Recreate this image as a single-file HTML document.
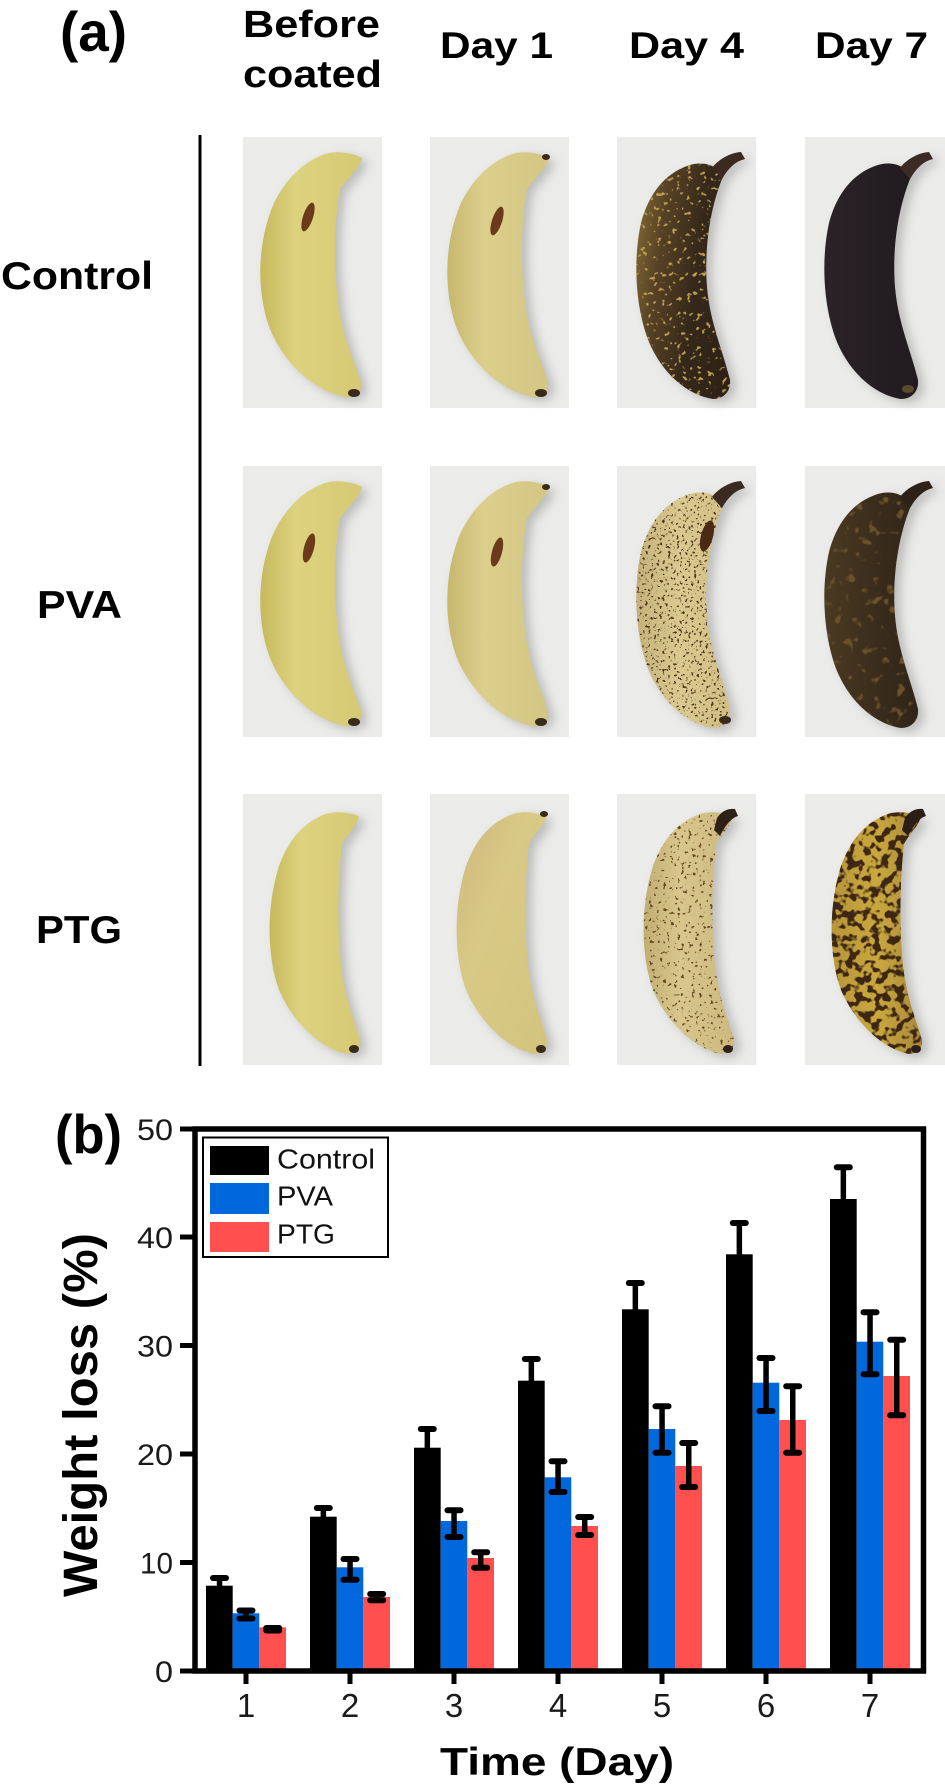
<!DOCTYPE html>
<html>
<head>
<meta charset="utf-8">
<style>
html,body{margin:0;padding:0;background:#fff;}
svg{display:block;}
</style>
</head>
<body>
<svg width="945" height="1791" viewBox="0 0 945 1791" xmlns="http://www.w3.org/2000/svg" xmlns:xlink="http://www.w3.org/1999/xlink" font-family="'Liberation Sans', Arial, sans-serif">
<defs>
  <path id="sA" d="M86,16 C96,14 110,16 119,21 C117,30 106,40 97,52 C91,85 90,130 96,172 C101,205 113,228 118,246 C119,255 112,261 102,260 C72,254 42,228 27,192 C13,155 14,105 31,66 C44,40 63,22 86,16 Z"/>
  <path id="sB" d="M70,29 C80,25 90,26 97,30 C103,23 113,17 124,16 L127,22 C119,24 111,31 105,42 C93,72 87,112 90,150 C93,186 106,214 113,243 C114,255 106,262 96,262 C70,258 45,236 32,205 C18,170 16,122 24,86 C32,56 48,37 70,29 Z"/>
  <path id="sC" d="M78,22 C90,16 104,18 116,22 C114,32 104,40 99,50 C95,85 94,130 98,172 C102,206 112,228 117,246 C118,256 110,262 100,259 C75,252 50,228 36,196 C23,160 24,110 36,72 C46,45 60,30 78,22 Z"/>
  <path id="stB" d="M95,31 C101,23 112,16 124,15 L128,22 C119,24 111,31 105,42 Z"/>
  <path id="stC" d="M100,24 C104,18 110,14 118,15 L121,22 C114,24 108,32 103,42 L97,36 Z"/>
  <clipPath id="clA"><use xlink:href="#sA"/></clipPath>
  <clipPath id="clB"><use xlink:href="#sB"/></clipPath>
  <clipPath id="clC"><use xlink:href="#sC"/></clipPath>
  <filter id="blur" x="-30%" y="-30%" width="160%" height="160%" color-interpolation-filters="sRGB"><feGaussianBlur stdDeviation="5"/></filter>

  <linearGradient id="gy" x1="0" y1="0" x2="1" y2="0"><stop offset="0" stop-color="#c6b85c"/><stop offset=".35" stop-color="#ddd27f"/><stop offset="1" stop-color="#d5c974"/></linearGradient>
  <linearGradient id="gy2" x1="0" y1="0" x2="1" y2="0"><stop offset="0" stop-color="#c6b76c"/><stop offset=".35" stop-color="#dccf8c"/><stop offset="1" stop-color="#d3c684"/></linearGradient>
  <linearGradient id="gd" x1="0" y1="0" x2="1" y2="0.3"><stop offset="0" stop-color="#8c7238"/><stop offset=".3" stop-color="#574226"/><stop offset=".65" stop-color="#35281a"/><stop offset="1" stop-color="#2e2218"/></linearGradient>
  <linearGradient id="gk" x1="0" y1="0" x2="1" y2="0"><stop offset="0" stop-color="#2a2226"/><stop offset="1" stop-color="#1f1a1e"/></linearGradient>
  <linearGradient id="gb" x1="0" y1="0" x2="1" y2="0"><stop offset="0" stop-color="#4a3a22"/><stop offset=".5" stop-color="#3a2c1c"/><stop offset="1" stop-color="#2c2218"/></linearGradient>
  <linearGradient id="gs" x1="0" y1="0" x2="1" y2="0"><stop offset="0" stop-color="#c4b27a"/><stop offset=".4" stop-color="#dac990"/><stop offset="1" stop-color="#cfbd82"/></linearGradient>
  <linearGradient id="g3" x1="0" y1="0" x2="1" y2="0"><stop offset="0" stop-color="#c2ae72"/><stop offset=".4" stop-color="#d8c68c"/><stop offset="1" stop-color="#cdb97e"/></linearGradient>
  <linearGradient id="g2r" x1="0" y1="0" x2="1" y2="1"><stop offset="0" stop-color="#cfb77c"/><stop offset=".4" stop-color="#d9c986"/><stop offset="1" stop-color="#d2c47c"/></linearGradient>
  <linearGradient id="g4" x1="0" y1="0" x2="1" y2="0"><stop offset="0" stop-color="#b8963a"/><stop offset=".5" stop-color="#caa83e"/><stop offset="1" stop-color="#a8893a"/></linearGradient>

  <filter id="f13" x="0" y="0" width="1" height="1" color-interpolation-filters="sRGB"><feTurbulence type="fractalNoise" baseFrequency="0.2" numOctaves="2" seed="5"/><feColorMatrix type="matrix" values="0 0 0 0 0.74  0 0 0 0 0.62  0 0 0 0 0.3  12 0 0 0 -7.6"/></filter>
  <filter id="f23" x="0" y="0" width="1" height="1" color-interpolation-filters="sRGB"><feTurbulence type="fractalNoise" baseFrequency="0.35" numOctaves="2" seed="9"/><feColorMatrix type="matrix" values="0 0 0 0 0.32  0 0 0 0 0.2  0 0 0 0 0.1  14 0 0 0 -8.6"/></filter>
  <filter id="f24" x="0" y="0" width="1" height="1" color-interpolation-filters="sRGB"><feTurbulence type="fractalNoise" baseFrequency="0.1" numOctaves="2" seed="2"/><feColorMatrix type="matrix" values="0 0 0 0 0.42  0 0 0 0 0.32  0 0 0 0 0.16  8 0 0 0 -4.9"/></filter>
  <filter id="f33" x="0" y="0" width="1" height="1" color-interpolation-filters="sRGB"><feTurbulence type="fractalNoise" baseFrequency="0.28" numOctaves="2" seed="13"/><feColorMatrix type="matrix" values="0 0 0 0 0.4  0 0 0 0 0.27  0 0 0 0 0.13  14 0 0 0 -9.0"/></filter>
  <filter id="f34" x="0" y="0" width="1" height="1" color-interpolation-filters="sRGB"><feTurbulence type="fractalNoise" baseFrequency="0.12" numOctaves="2" seed="7"/><feColorMatrix type="matrix" values="0 0 0 0 0.24  0 0 0 0 0.15  0 0 0 0 0.07  10 0 0 0 -4.9"/></filter>
</defs>

<rect width="945" height="1791" fill="#fff"/>

<!-- ============ PANEL (a) ============ -->
<g font-weight="bold" fill="#000">
  <text x="60" y="51" font-size="56" textLength="67" lengthAdjust="spacingAndGlyphs">(a)</text>
  <text x="243" y="37" font-size="38" textLength="137" lengthAdjust="spacingAndGlyphs">Before</text>
  <text x="243" y="87" font-size="38" textLength="139" lengthAdjust="spacingAndGlyphs">coated</text>
  <text x="440" y="58" font-size="37" textLength="113" lengthAdjust="spacingAndGlyphs">Day 1</text>
  <text x="629" y="58" font-size="37" textLength="115" lengthAdjust="spacingAndGlyphs">Day 4</text>
  <text x="815" y="58" font-size="37" textLength="113" lengthAdjust="spacingAndGlyphs">Day 7</text>
  <text x="1" y="289" font-size="39" textLength="152" lengthAdjust="spacingAndGlyphs">Control</text>
  <text x="37" y="618" font-size="39" textLength="85" lengthAdjust="spacingAndGlyphs">PVA</text>
  <text x="36" y="943" font-size="39" textLength="86" lengthAdjust="spacingAndGlyphs">PTG</text>
</g>
<rect x="198.5" y="135" width="3" height="931" fill="#000"/>

<!-- Row 1 -->
<g transform="translate(243,137)">
  <rect width="139" height="271" fill="#ebebe9"/>
  <use xlink:href="#sA" fill="#8e8e8e" opacity=".5" filter="url(#blur)" transform="translate(6,4)"/>
  <use xlink:href="#sA" fill="url(#gy)"/>
  <ellipse cx="65" cy="80" rx="5" ry="15" fill="#6a3a1a" transform="rotate(18 65 80)"/>
  <ellipse cx="111" cy="256" rx="6" ry="4" fill="#3a2a1a"/>
</g>
<g transform="translate(430,137)">
  <rect width="139" height="271" fill="#ebebe9"/>
  <use xlink:href="#sA" fill="#8e8e8e" opacity=".5" filter="url(#blur)" transform="translate(6,4)"/>
  <use xlink:href="#sA" fill="url(#gy2)"/>
  <ellipse cx="67" cy="84" rx="5" ry="15" fill="#6a3a1a" transform="rotate(18 67 84)"/>
  <ellipse cx="116" cy="20" rx="4" ry="3" fill="#3a2a1a"/>
  <ellipse cx="111" cy="256" rx="6" ry="4" fill="#3a2a1a"/>
</g>
<g transform="translate(617,137)">
  <rect width="139" height="271" fill="#ebebe9"/>
  <use xlink:href="#sB" fill="#8e8e8e" opacity=".5" filter="url(#blur)" transform="translate(6,4)"/>
  <use xlink:href="#sB" fill="url(#gd)"/>
  <g clip-path="url(#clB)"><rect width="139" height="271" filter="url(#f13)"/></g>
  <use xlink:href="#stB" fill="#3a2a20"/>
</g>
<g transform="translate(805,137)">
  <rect width="140" height="271" fill="#ebebe9"/>
  <use xlink:href="#sB" fill="#8e8e8e" opacity=".5" filter="url(#blur)" transform="translate(6,4)"/>
  <use xlink:href="#sB" fill="url(#gk)"/>
  <use xlink:href="#stB" fill="#3b2b24"/>
  <ellipse cx="103" cy="252" rx="6" ry="4" fill="#5a4a30"/>
</g>

<!-- Row 2 -->
<g transform="translate(243,466)">
  <rect width="139" height="271" fill="#ebebe9"/>
  <use xlink:href="#sA" fill="#8e8e8e" opacity=".5" filter="url(#blur)" transform="translate(6,4)"/>
  <use xlink:href="#sA" fill="url(#gy)"/>
  <ellipse cx="66" cy="82" rx="5" ry="15" fill="#6a3a1a" transform="rotate(15 66 82)"/>
  <ellipse cx="111" cy="256" rx="6" ry="4" fill="#3a2a1a"/>
</g>
<g transform="translate(430,466)">
  <rect width="139" height="271" fill="#ebebe9"/>
  <use xlink:href="#sA" fill="#8e8e8e" opacity=".5" filter="url(#blur)" transform="translate(6,4)"/>
  <use xlink:href="#sA" fill="url(#gy2)"/>
  <ellipse cx="67" cy="86" rx="5" ry="15" fill="#6a3a1a" transform="rotate(15 67 86)"/>
  <ellipse cx="116" cy="21" rx="4" ry="3" fill="#3a2a1a"/>
  <ellipse cx="111" cy="256" rx="6" ry="4" fill="#3a2a1a"/>
</g>
<g transform="translate(617,466)">
  <rect width="139" height="271" fill="#ebebe9"/>
  <use xlink:href="#sB" fill="#8e8e8e" opacity=".5" filter="url(#blur)" transform="translate(6,4)"/>
  <use xlink:href="#sB" fill="url(#gs)"/>
  <g clip-path="url(#clB)"><rect width="139" height="271" filter="url(#f23)"/></g>
  <ellipse cx="90" cy="70" rx="6" ry="16" fill="#4a2a14" transform="rotate(15 90 70)"/>
  <use xlink:href="#stB" fill="#3a2a20"/>
  <ellipse cx="108" cy="254" rx="6" ry="4" fill="#3a2a1a"/>
</g>
<g transform="translate(805,466)">
  <rect width="140" height="271" fill="#ebebe9"/>
  <use xlink:href="#sB" fill="#8e8e8e" opacity=".5" filter="url(#blur)" transform="translate(6,4)"/>
  <use xlink:href="#sB" fill="url(#gb)"/>
  <g clip-path="url(#clB)"><rect width="139" height="271" filter="url(#f24)"/></g>
  <use xlink:href="#stB" fill="#2e2218"/>
</g>

<!-- Row 3 -->
<g transform="translate(243,794)">
  <rect width="139" height="271" fill="#ebebe9"/>
  <use xlink:href="#sC" fill="#8e8e8e" opacity=".5" filter="url(#blur)" transform="translate(6,4)"/>
  <use xlink:href="#sC" fill="url(#gy)"/>
  <ellipse cx="111" cy="255" rx="5" ry="4" fill="#3a2a1a"/>
</g>
<g transform="translate(430,794)">
  <rect width="139" height="271" fill="#ebebe9"/>
  <use xlink:href="#sC" fill="#8e8e8e" opacity=".5" filter="url(#blur)" transform="translate(6,4)"/>
  <use xlink:href="#sC" fill="url(#g2r)"/>
  <ellipse cx="114" cy="20" rx="4" ry="3" fill="#3a2a1a"/>
  <ellipse cx="111" cy="255" rx="5" ry="4" fill="#3a2a1a"/>
</g>
<g transform="translate(617,794)">
  <rect width="139" height="271" fill="#ebebe9"/>
  <use xlink:href="#sC" fill="#8e8e8e" opacity=".5" filter="url(#blur)" transform="translate(6,4)"/>
  <use xlink:href="#sC" fill="url(#g3)"/>
  <g clip-path="url(#clC)"><rect width="139" height="271" filter="url(#f33)"/></g>
  <use xlink:href="#stC" fill="#2e2218"/>
  <ellipse cx="111" cy="255" rx="5" ry="4" fill="#2e2218"/>
</g>
<g transform="translate(805,794)">
  <rect width="140" height="271" fill="#ebebe9"/>
  <use xlink:href="#sC" fill="#8e8e8e" opacity=".5" filter="url(#blur)" transform="translate(6,4)"/>
  <use xlink:href="#sC" fill="url(#g4)"/>
  <g clip-path="url(#clC)"><rect width="139" height="271" filter="url(#f34)"/></g>
  <use xlink:href="#stC" fill="#2a1e16"/>
  <ellipse cx="111" cy="255" rx="5" ry="4" fill="#2a1e16"/>
</g>

<!-- ============ PANEL (b) ============ -->
<text x="55" y="1153" font-size="55" font-weight="bold" textLength="67" lengthAdjust="spacingAndGlyphs">(b)</text>

<!-- bars -->
<g>
  <rect x="206" y="1585.7" width="26.7" height="85.3" fill="#000"/>
  <rect x="232.7" y="1613.3" width="26.6" height="57.7" fill="#0068dc"/>
  <rect x="259.3" y="1627.3" width="26.7" height="43.7" fill="#ff4f4f"/>
  <rect x="310" y="1516.7" width="26.7" height="154.3" fill="#000"/>
  <rect x="336.7" y="1567.3" width="26.6" height="103.7" fill="#0068dc"/>
  <rect x="363.3" y="1597" width="26.7" height="74" fill="#ff4f4f"/>
  <rect x="414" y="1447.7" width="26.7" height="223.3" fill="#000"/>
  <rect x="440.7" y="1521" width="26.6" height="150" fill="#0068dc"/>
  <rect x="467.3" y="1558" width="26.7" height="113" fill="#ff4f4f"/>
  <rect x="518" y="1380.7" width="26.7" height="290.3" fill="#000"/>
  <rect x="544.7" y="1477.3" width="26.6" height="193.7" fill="#0068dc"/>
  <rect x="571.3" y="1526" width="26.7" height="145" fill="#ff4f4f"/>
  <rect x="622" y="1309.3" width="26.7" height="361.7" fill="#000"/>
  <rect x="648.7" y="1429" width="26.6" height="242" fill="#0068dc"/>
  <rect x="675.3" y="1466" width="26.7" height="205" fill="#ff4f4f"/>
  <rect x="726" y="1254.3" width="26.7" height="416.7" fill="#000"/>
  <rect x="752.7" y="1382.7" width="26.6" height="288.3" fill="#0068dc"/>
  <rect x="779.3" y="1420" width="26.7" height="251" fill="#ff4f4f"/>
  <rect x="830" y="1199" width="26.7" height="472" fill="#000"/>
  <rect x="856.7" y="1341.7" width="26.6" height="329.3" fill="#0068dc"/>
  <rect x="883.3" y="1376" width="26.7" height="295" fill="#ff4f4f"/>
</g>

<!-- error bars -->
<g fill="#000">
  <rect x="216.8" y="1577" width="5.5" height="12"/><rect x="210" y="1575" width="19" height="6" rx="3"/>
  <rect x="243.3" y="1610" width="5.5" height="9"/><rect x="236.5" y="1607.5" width="19" height="6" rx="3"/><rect x="236.5" y="1615.5" width="19" height="6" rx="3"/>
  <rect x="270" y="1627" width="5.5" height="5"/><rect x="263.2" y="1625" width="19" height="6" rx="3"/><rect x="263.2" y="1627.5" width="19" height="6" rx="3"/>
  <rect x="320.6" y="1507" width="5.5" height="13"/><rect x="313.8" y="1505" width="19" height="6" rx="3"/>
  <rect x="347.3" y="1559" width="5.5" height="21"/><rect x="340.5" y="1556" width="19" height="6" rx="3"/><rect x="340.5" y="1576.7" width="19" height="6" rx="3"/>
  <rect x="374" y="1593" width="5.5" height="8"/><rect x="367.2" y="1591" width="19" height="6" rx="3"/><rect x="367.2" y="1597.3" width="19" height="6" rx="3"/>
  <rect x="424.6" y="1428" width="5.5" height="23"/><rect x="417.8" y="1426" width="19" height="6" rx="3"/>
  <rect x="451.3" y="1510" width="5.5" height="27"/><rect x="444.5" y="1507.3" width="19" height="6" rx="3"/><rect x="444.5" y="1534" width="19" height="6" rx="3"/>
  <rect x="478" y="1552" width="5.5" height="16"/><rect x="471.2" y="1549.3" width="19" height="6" rx="3"/><rect x="471.2" y="1564.7" width="19" height="6" rx="3"/>
  <rect x="528.6" y="1358" width="5.5" height="26"/><rect x="521.8" y="1356" width="19" height="6" rx="3"/>
  <rect x="555.3" y="1461" width="5.5" height="31"/><rect x="548.5" y="1458.3" width="19" height="6" rx="3"/><rect x="548.5" y="1489" width="19" height="6" rx="3"/>
  <rect x="582" y="1517" width="5.5" height="18"/><rect x="575.2" y="1514" width="19" height="6" rx="3"/><rect x="575.2" y="1532" width="19" height="6" rx="3"/>
  <rect x="632.6" y="1282" width="5.5" height="31"/><rect x="625.8" y="1280" width="19" height="6" rx="3"/>
  <rect x="659.3" y="1406" width="5.5" height="47"/><rect x="652.5" y="1403.3" width="19" height="6" rx="3"/><rect x="652.5" y="1449.7" width="19" height="6" rx="3"/>
  <rect x="686" y="1443" width="5.5" height="44"/><rect x="679.2" y="1440" width="19" height="6" rx="3"/><rect x="679.2" y="1484" width="19" height="6" rx="3"/>
  <rect x="736.6" y="1222" width="5.5" height="36"/><rect x="729.8" y="1220" width="19" height="6" rx="3"/>
  <rect x="763.3" y="1358" width="5.5" height="53"/><rect x="756.5" y="1355" width="19" height="6" rx="3"/><rect x="756.5" y="1408" width="19" height="6" rx="3"/>
  <rect x="790" y="1386" width="5.5" height="67"/><rect x="783.2" y="1383.3" width="19" height="6" rx="3"/><rect x="783.2" y="1449.7" width="19" height="6" rx="3"/>
  <rect x="840.6" y="1166" width="5.5" height="37"/><rect x="833.8" y="1164.3" width="19" height="6" rx="3"/>
  <rect x="867.3" y="1312" width="5.5" height="62"/><rect x="860.5" y="1309.3" width="19" height="6" rx="3"/><rect x="860.5" y="1371.3" width="19" height="6" rx="3"/>
  <rect x="894" y="1339" width="5.5" height="76"/><rect x="887.2" y="1336.7" width="19" height="6" rx="3"/><rect x="887.2" y="1412.3" width="19" height="6" rx="3"/>
</g>

<!-- axes frame -->
<rect x="195" y="1129" width="728.5" height="542" fill="none" stroke="#000" stroke-width="5.5"/>
<g fill="#000">
  <rect x="180" y="1668.5" width="15" height="5"/>
  <rect x="180" y="1560" width="15" height="5"/>
  <rect x="180" y="1451.5" width="15" height="5"/>
  <rect x="180" y="1343" width="15" height="5"/>
  <rect x="180" y="1234.5" width="15" height="5"/>
  <rect x="180" y="1126.5" width="15" height="5"/>
</g>
<g fill="#000">
  <rect x="243.5" y="1671" width="5" height="13"/>
  <rect x="347.5" y="1671" width="5" height="13"/>
  <rect x="451.5" y="1671" width="5" height="13"/>
  <rect x="555.5" y="1671" width="5" height="13"/>
  <rect x="659.5" y="1671" width="5" height="13"/>
  <rect x="763.5" y="1671" width="5" height="13"/>
  <rect x="867.5" y="1671" width="5" height="13"/>
</g>

<g font-size="30" fill="#1a1a1a" text-anchor="end">
  <text x="173" y="1682" textLength="18" lengthAdjust="spacingAndGlyphs">0</text>
  <text x="173" y="1573.5" textLength="33" lengthAdjust="spacingAndGlyphs">10</text>
  <text x="173" y="1465" textLength="36" lengthAdjust="spacingAndGlyphs">20</text>
  <text x="173" y="1356.5" textLength="36" lengthAdjust="spacingAndGlyphs">30</text>
  <text x="173" y="1248" textLength="36" lengthAdjust="spacingAndGlyphs">40</text>
  <text x="173" y="1140" textLength="36" lengthAdjust="spacingAndGlyphs">50</text>
</g>
<g font-size="33" fill="#1a1a1a" text-anchor="middle">
  <text x="246" y="1717">1</text>
  <text x="350" y="1717">2</text>
  <text x="454" y="1717">3</text>
  <text x="558" y="1717">4</text>
  <text x="662" y="1717">5</text>
  <text x="766" y="1717">6</text>
  <text x="870" y="1717">7</text>
</g>

<text x="557" y="1775" font-size="39" font-weight="bold" text-anchor="middle" textLength="234" lengthAdjust="spacingAndGlyphs">Time (Day)</text>
<text transform="translate(97,1415) rotate(-90)" x="0" y="0" font-size="48" font-weight="bold" text-anchor="middle" textLength="364" lengthAdjust="spacingAndGlyphs">Weight loss (%)</text>

<rect x="203" y="1137.5" width="185" height="119.5" fill="#fff" stroke="#000" stroke-width="2"/>
<rect x="210" y="1146" width="59" height="29" fill="#000"/>
<rect x="210" y="1183" width="59" height="31" fill="#0068dc"/>
<rect x="210" y="1222" width="59" height="30" fill="#ff4f4f"/>
<g font-size="28" fill="#111">
  <text x="277" y="1168.5" textLength="98" lengthAdjust="spacingAndGlyphs">Control</text>
  <text x="277" y="1205.5" textLength="56" lengthAdjust="spacingAndGlyphs">PVA</text>
  <text x="277" y="1243.5" textLength="58" lengthAdjust="spacingAndGlyphs">PTG</text>
</g>
</svg>
</body>
</html>
